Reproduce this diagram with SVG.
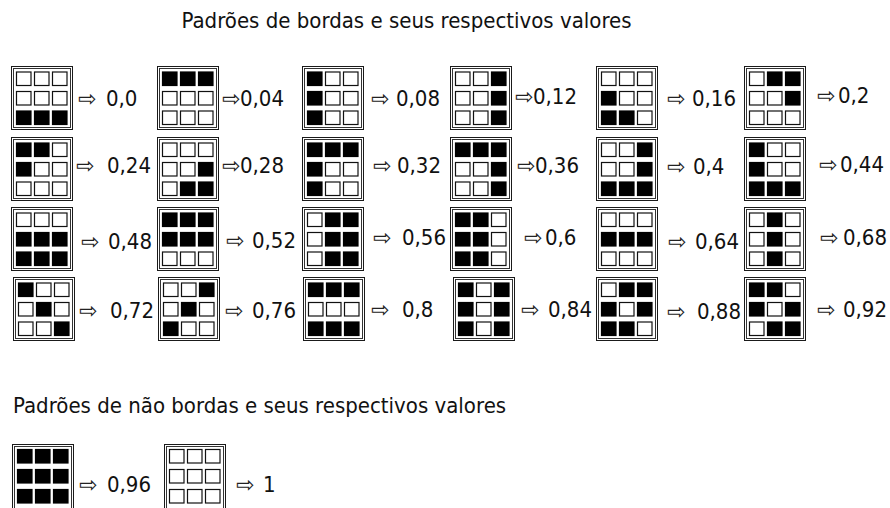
<svg xmlns="http://www.w3.org/2000/svg" width="890" height="508" viewBox="0 0 890 508">
<style>
.o{fill:#fff;stroke:#1a1a1a;stroke-width:1}
.i{fill:none;stroke:#333;stroke-width:1}
.w{fill:#fff;stroke:#111;stroke-width:1.2}
.k{fill:#000;stroke:#000;stroke-width:1.2}
.t{font-family:'DejaVu Sans Condensed','DejaVu Sans',sans-serif;font-stretch:condensed;font-size:22px;fill:#111}
.a{font-family:'DejaVu Sans',sans-serif;font-stretch:normal;font-size:22px;fill:#222}
</style>
<defs>
<g id="fr"><rect class="o" x="0.5" y="0.5" width="61" height="63"/><rect class="i" x="2.5" y="2.5" width="57" height="59"/></g>
<g id="frb"><rect class="o" x="0.5" y="0.5" width="61" height="67"/><rect class="i" x="2.5" y="2.5" width="57" height="63"/></g>
<g id="r000"><rect class="w" x="5.5" width="14.5" height="13.5"/><rect class="w" x="23.5" width="14.5" height="13.5"/><rect class="w" x="41.5" width="14.5" height="13.5"/></g>
<g id="r001"><rect class="w" x="5.5" width="14.5" height="13.5"/><rect class="w" x="23.5" width="14.5" height="13.5"/><rect class="k" x="41.5" width="14.5" height="13.5"/></g>
<g id="r010"><rect class="w" x="5.5" width="14.5" height="13.5"/><rect class="k" x="23.5" width="14.5" height="13.5"/><rect class="w" x="41.5" width="14.5" height="13.5"/></g>
<g id="r011"><rect class="w" x="5.5" width="14.5" height="13.5"/><rect class="k" x="23.5" width="14.5" height="13.5"/><rect class="k" x="41.5" width="14.5" height="13.5"/></g>
<g id="r100"><rect class="k" x="5.5" width="14.5" height="13.5"/><rect class="w" x="23.5" width="14.5" height="13.5"/><rect class="w" x="41.5" width="14.5" height="13.5"/></g>
<g id="r101"><rect class="k" x="5.5" width="14.5" height="13.5"/><rect class="w" x="23.5" width="14.5" height="13.5"/><rect class="k" x="41.5" width="14.5" height="13.5"/></g>
<g id="r110"><rect class="k" x="5.5" width="14.5" height="13.5"/><rect class="k" x="23.5" width="14.5" height="13.5"/><rect class="w" x="41.5" width="14.5" height="13.5"/></g>
<g id="r111"><rect class="k" x="5.5" width="14.5" height="13.5"/><rect class="k" x="23.5" width="14.5" height="13.5"/><rect class="k" x="41.5" width="14.5" height="13.5"/></g>
</defs>
<rect width="890" height="508" fill="#fff"/>
<text class="t" x="181.5" y="28">Padrões de bordas e seus respectivos valores</text>

<g id="p-0-0"><g transform="translate(11,66)"><use href="#fr"/><use href="#r000" y="6"/><use href="#r000" y="25.5"/><use href="#r111" y="45"/></g><text class="t" y="106"><tspan class="a" x="78">⇨ </tspan><tspan x="106">0,0</tspan></text></g>
<g id="p-0-04"><g transform="translate(157,66)"><use href="#fr"/><use href="#r111" y="6"/><use href="#r000" y="25.5"/><use href="#r000" y="45"/></g><text class="t" y="106"><tspan class="a" x="222">⇨</tspan><tspan x="240">0,04</tspan></text></g>
<g id="p-0-08"><g transform="translate(302,66)"><use href="#fr"/><use href="#r100" y="6"/><use href="#r100" y="25.5"/><use href="#r100" y="45"/></g><text class="t" y="106"><tspan class="a" x="371">⇨ </tspan><tspan x="396">0,08</tspan></text></g>
<g id="p-0-12"><g transform="translate(450,66)"><use href="#fr"/><use href="#r001" y="6"/><use href="#r001" y="25.5"/><use href="#r001" y="45"/></g><text class="t" y="104"><tspan class="a" x="515">⇨</tspan><tspan x="533">0,12</tspan></text></g>
<g id="p-0-16"><g transform="translate(596,66)"><use href="#fr"/><use href="#r000" y="6"/><use href="#r100" y="25.5"/><use href="#r110" y="45"/></g><text class="t" y="106"><tspan class="a" x="667">⇨ </tspan><tspan x="692">0,16</tspan></text></g>
<g id="p-0-2"><g transform="translate(744,66)"><use href="#fr"/><use href="#r011" y="6"/><use href="#r001" y="25.5"/><use href="#r000" y="45"/></g><text class="t" y="103"><tspan class="a" x="817">⇨</tspan><tspan x="838">0,2</tspan></text></g>

<g id="p-0-24"><g transform="translate(11,137)"><use href="#fr"/><use href="#r110" y="6"/><use href="#r100" y="25.5"/><use href="#r000" y="45"/></g><text class="t" y="173"><tspan class="a" x="76">⇨ </tspan><tspan x="107">0,24</tspan></text></g>
<g id="p-0-28"><g transform="translate(157,137)"><use href="#fr"/><use href="#r000" y="6"/><use href="#r001" y="25.5"/><use href="#r011" y="45"/></g><text class="t" y="173"><tspan class="a" x="222">⇨</tspan><tspan x="240">0,28</tspan></text></g>
<g id="p-0-32"><g transform="translate(302,137)"><use href="#fr"/><use href="#r111" y="6"/><use href="#r100" y="25.5"/><use href="#r100" y="45"/></g><text class="t" y="173"><tspan class="a" x="373">⇨ </tspan><tspan x="397">0,32</tspan></text></g>
<g id="p-0-36"><g transform="translate(450,137)"><use href="#fr"/><use href="#r111" y="6"/><use href="#r001" y="25.5"/><use href="#r001" y="45"/></g><text class="t" y="173"><tspan class="a" x="517">⇨</tspan><tspan x="535">0,36</tspan></text></g>
<g id="p-0-4"><g transform="translate(596,137)"><use href="#fr"/><use href="#r001" y="6"/><use href="#r001" y="25.5"/><use href="#r111" y="45"/></g><text class="t" y="174"><tspan class="a" x="667">⇨ </tspan><tspan x="693">0,4</tspan></text></g>
<g id="p-0-44"><g transform="translate(744,137)"><use href="#fr"/><use href="#r100" y="6"/><use href="#r100" y="25.5"/><use href="#r111" y="45"/></g><text class="t" y="172"><tspan class="a" x="819">⇨</tspan><tspan x="840">0,44</tspan></text></g>

<g id="p-0-48"><g transform="translate(11,207)"><use href="#fr"/><use href="#r000" y="6"/><use href="#r111" y="25.5"/><use href="#r111" y="45"/></g><text class="t" y="249"><tspan class="a" x="81">⇨ </tspan><tspan x="108">0,48</tspan></text></g>
<g id="p-0-52"><g transform="translate(157,207)"><use href="#fr"/><use href="#r111" y="6"/><use href="#r111" y="25.5"/><use href="#r000" y="45"/></g><text class="t" y="248"><tspan class="a" x="226">⇨ </tspan><tspan x="252">0,52</tspan></text></g>
<g id="p-0-56"><g transform="translate(302,207)"><use href="#fr"/><use href="#r011" y="6"/><use href="#r011" y="25.5"/><use href="#r011" y="45"/></g><text class="t" y="245"><tspan class="a" x="373">⇨ </tspan><tspan x="402">0,56</tspan></text></g>
<g id="p-0-6"><g transform="translate(450,207)"><use href="#fr"/><use href="#r110" y="6"/><use href="#r110" y="25.5"/><use href="#r110" y="45"/></g><text class="t" y="245"><tspan class="a" x="524">⇨</tspan><tspan x="545">0,6</tspan></text></g>
<g id="p-0-64"><g transform="translate(596,207)"><use href="#fr"/><use href="#r000" y="6"/><use href="#r111" y="25.5"/><use href="#r000" y="45"/></g><text class="t" y="249"><tspan class="a" x="668">⇨ </tspan><tspan x="695">0,64</tspan></text></g>
<g id="p-0-68"><g transform="translate(744,207)"><use href="#fr"/><use href="#r010" y="6"/><use href="#r010" y="25.5"/><use href="#r010" y="45"/></g><text class="t" y="245"><tspan class="a" x="820">⇨ </tspan><tspan x="843">0,68</tspan></text></g>

<g id="p-0-72"><g transform="translate(13,277)"><use href="#fr"/><use href="#r100" y="6"/><use href="#r010" y="25.5"/><use href="#r001" y="45"/></g><text class="t" y="318"><tspan class="a" x="79">⇨ </tspan><tspan x="110">0,72</tspan></text></g>
<g id="p-0-76"><g transform="translate(158,277)"><use href="#fr"/><use href="#r001" y="6"/><use href="#r010" y="25.5"/><use href="#r100" y="45"/></g><text class="t" y="318"><tspan class="a" x="225">⇨ </tspan><tspan x="252">0,76</tspan></text></g>
<g id="p-0-8"><g transform="translate(303,277)"><use href="#fr"/><use href="#r111" y="6"/><use href="#r000" y="25.5"/><use href="#r111" y="45"/></g><text class="t" y="317"><tspan class="a" x="371">⇨ </tspan><tspan x="402">0,8</tspan></text></g>
<g id="p-0-84"><g transform="translate(453,277)"><use href="#fr"/><use href="#r101" y="6"/><use href="#r101" y="25.5"/><use href="#r101" y="45"/></g><text class="t" y="317"><tspan class="a" x="521">⇨ </tspan><tspan x="548">0,84</tspan></text></g>
<g id="p-0-88"><g transform="translate(596,277)"><use href="#fr"/><use href="#r011" y="6"/><use href="#r101" y="25.5"/><use href="#r110" y="45"/></g><text class="t" y="319"><tspan class="a" x="667">⇨ </tspan><tspan x="697">0,88</tspan></text></g>
<g id="p-0-92"><g transform="translate(744,277)"><use href="#fr"/><use href="#r110" y="6"/><use href="#r101" y="25.5"/><use href="#r011" y="45"/></g><text class="t" y="317"><tspan class="a" x="817">⇨ </tspan><tspan x="843">0,92</tspan></text></g>

<text class="t" x="13" y="413">Padrões de não bordas e seus respectivos valores</text>

<g id="p-0-96"><g transform="translate(12,444)"><use href="#frb"/><use href="#r111" y="5.5"/><use href="#r111" y="25.5"/><use href="#r111" y="45.5"/></g><text class="t" y="492"><tspan class="a" x="79">⇨ </tspan><tspan x="107">0,96</tspan></text></g>
<g id="p-1"><g transform="translate(164,444)"><use href="#frb"/><use href="#r000" y="5.5"/><use href="#r000" y="25.5"/><use href="#r000" y="45.5"/></g><text class="t" y="492"><tspan class="a" x="236">⇨ </tspan><tspan x="263">1</tspan></text></g>
</svg>
